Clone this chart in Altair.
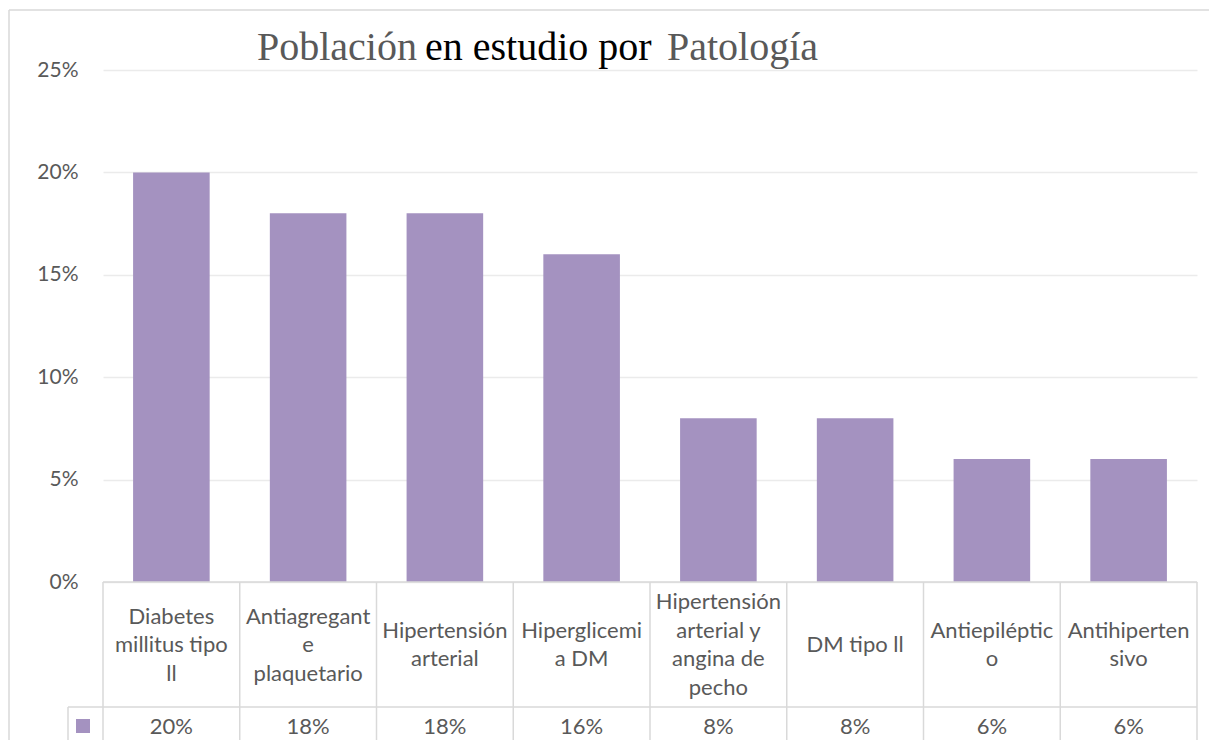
import altair as alt
import pandas as pd

# ---- data ----
categories = [
    "Diabetes millitus tipo ll",
    "Antiagregante plaquetario",
    "Hipertensión arterial",
    "Hiperglicemia DM",
    "Hipertensión arterial y angina de pecho",
    "DM tipo ll",
    "Antiepiléptico",
    "Antihipertensivo",
]
label_lines = [
    ["Diabetes", "millitus tipo", "ll"],
    ["Antiagregant", "e", "plaquetario"],
    ["Hipertensión", "arterial"],
    ["Hiperglicemi", "a DM"],
    ["Hipertensión", "arterial y", "angina de", "pecho"],
    ["DM tipo ll"],
    ["Antiepiléptic", "o"],
    ["Antihiperten", "sivo"],
]
values = [0.20, 0.18, 0.18, 0.16, 0.08, 0.08, 0.06, 0.06]
value_labels = ["20%", "18%", "18%", "16%", "8%", "8%", "6%", "6%"]
y_ticks = [0, 0.05, 0.10, 0.15, 0.20, 0.25]
title_parts = ["Población", "en estudio por", "Patología"]

# ---- styles ----
BAR = "#A492C0"
TXT = "#595959"
LINE = "#D9D9D9"
W, H = 1094, 512
LH = 28.5          # line height of the table labels
CY = 575           # vertical centre of the label row (px from plot top)

df = pd.DataFrame({
    "cat": categories,
    "val": values,
    "vlab": value_labels,
    "idx": list(range(len(categories))),
})
rows = []
for i, lines in enumerate(label_lines):
    n = len(lines)
    for j, t in enumerate(lines):
        rows.append({"idx": i, "line": t, "pos": j - (n - 1) / 2})
df_lines = pd.DataFrame(rows)
bounds = pd.DataFrame({"b": list(range(len(categories) + 1))})
one = pd.DataFrame({"k": [0]})

qx = lambda f: alt.X(f, scale=alt.Scale(domain=[0, len(categories)], nice=False, zero=False), axis=None)

bars = alt.Chart(df).mark_bar(color=BAR).encode(
    x=alt.X("cat:N", sort=categories,
            scale=alt.Scale(paddingInner=0.44, paddingOuter=0.22), axis=None),
    y=alt.Y("val:Q", scale=alt.Scale(domain=[0, 0.25], nice=False),
            axis=alt.Axis(values=y_ticks, format=".0%", title=None, domain=False,
                          ticks=False, labelFont="Lato", labelFontSize=21,
                          labelColor=TXT, labelPadding=25,
                          gridColor="#EBEBEB", gridWidth=1.5)),
)

cat_text = alt.Chart(df_lines).transform_calculate(xc="datum.idx + 0.5").mark_text(
    font="Lato", fontSize=22, color=TXT, baseline="middle", align="center"
).encode(
    x=qx("xc:Q"),
    y=alt.Y("pos:Q", scale=alt.Scale(domain=[-2, 2], range=[CY - 2 * LH, CY + 2 * LH],
                                     nice=False, zero=False), axis=None),
    text="line:N",
)

val_text = alt.Chart(df).transform_calculate(xc="datum.idx + 0.5").mark_text(
    font="Lato", fontSize=22, color=TXT, baseline="middle", align="center"
).encode(x=qx("xc:Q"), y=alt.value(657), text="vlab:N")

col_rules = alt.Chart(bounds).mark_rule(color=LINE, strokeWidth=1.5).encode(
    x=qx("b:Q"), y=alt.value(H), y2=alt.value(680)
)
top_rule = alt.Chart(one).mark_rule(color=LINE, strokeWidth=1.5).encode(
    x=alt.value(0), x2=alt.value(W), y=alt.value(H)
)
mid_rule = alt.Chart(one).mark_rule(color=LINE, strokeWidth=1.5).encode(
    x=alt.value(-35), x2=alt.value(W), y=alt.value(637)
)
key_left = alt.Chart(one).mark_rule(color=LINE, strokeWidth=1.5).encode(
    x=alt.value(-35), y=alt.value(637), y2=alt.value(680)
)
key = alt.Chart(one).mark_square(color=BAR, size=196, opacity=1).encode(
    x=alt.value(-20), y=alt.value(656)
)
frame_left = alt.Chart(one).mark_rule(color=LINE, strokeWidth=1.5).encode(
    x=alt.value(-94), y=alt.value(-60), y2=alt.value(680)
)
frame_top = alt.Chart(one).mark_rule(color=LINE, strokeWidth=1.5).encode(
    x=alt.value(-94), x2=alt.value(1120), y=alt.value(-60)
)

title_x = [154, 322, 564]
title_col = [TXT, "#000000", TXT]
titles = [
    alt.Chart(one).mark_text(font="Liberation Serif", fontSize=40, color=c,
                             align="left", baseline="alphabetic", text=t).encode(
        x=alt.value(xv), y=alt.value(-10.5))
    for t, xv, c in zip(title_parts, title_x, title_col)
]

chart = alt.layer(
    bars, top_rule, mid_rule, key_left, col_rules, cat_text, val_text, key,
    frame_left, frame_top, *titles
).resolve_scale(x="independent", y="independent").properties(
    width=W, height=H, autosize="none",
    padding={"left": 95, "top": 62, "right": 12, "bottom": 158},
    background="white",
).configure_view(stroke=None)

chart.save("out.html", embed_options={"renderer": "svg", "actions": False})
